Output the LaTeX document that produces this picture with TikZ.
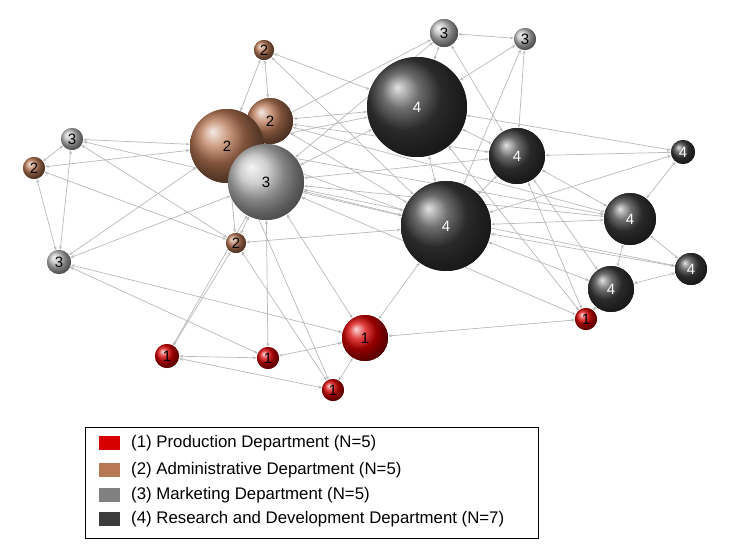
\documentclass[tikz,border=0pt]{standalone}
\usepackage{fontspec}
\setmainfont{Liberation Sans}
\usetikzlibrary{arrows.meta}
\definecolor{redc}{RGB}{215,0,0}
\definecolor{brownc}{RGB}{185,120,85}
\definecolor{grayc}{RGB}{190,190,190}
\definecolor{darkc}{RGB}{60,60,60}
\definecolor{edgec}{RGB}{185,185,185}
\begin{document}
\begin{tikzpicture}[x=1pt,y=-1pt,
  nd/.style={circle,inner sep=0pt,shading=ball,font=\fontsize{15}{15}\selectfont},
  r/.style={nd,ball color=redc,text=black},
  b/.style={nd,ball color=brownc,text=black},
  g/.style={nd,ball color=grayc,text=black},
  d/.style={nd,ball color=darkc,text=white},
  e/.style={draw=edgec,line width=0.7pt,{Stealth[length=4pt,width=3pt]}-{Stealth[length=4pt,width=3pt]}},
  lg/.style={font=\fontsize{16.8}{16.8}\selectfont,anchor=west,inner sep=0pt}]
\useasboundingbox (0,0) rectangle (731,555);
\node[r,minimum size=24pt] (A) at (167,356) {1};
\node[r,minimum size=22pt] (B) at (268,358) {1};
\node[r,minimum size=22pt] (C) at (333,390) {1};
\node[r,minimum size=46pt] (D) at (365,338) {1};
\node[r,minimum size=22pt] (E) at (586,319) {1};
\node[b,minimum size=20pt] (F) at (264,50) {2};
\node[b,minimum size=46pt] (G) at (270,121) {2};
\node[b,minimum size=74pt] (H) at (227,146) {2};
\node[b,minimum size=22pt] (I) at (34,168) {2};
\node[b,minimum size=20pt] (J) at (236,243) {2};
\node[g,minimum size=28pt] (K) at (444,33) {3};
\node[g,minimum size=22pt] (L) at (525,39) {3};
\node[g,minimum size=22pt] (M) at (72,139) {3};
\node[g,minimum size=76pt] (N) at (266,182) {3};
\node[g,minimum size=24pt] (O) at (59,262) {3};
\node[d,minimum size=100pt] (P) at (417,107) {4};
\node[d,minimum size=56pt] (Q) at (517,156) {4};
\node[d,minimum size=24pt] (R) at (683,152) {4};
\node[d,minimum size=90pt] (S) at (446,226) {4};
\node[d,minimum size=52pt] (T) at (630,219) {4};
\node[d,minimum size=32pt] (U) at (691,269) {4};
\node[d,minimum size=46pt] (V) at (611,289) {4};
\foreach \a/\b in {I/M,I/O,M/O,M/H,M/J,I/H,I/J,O/H,O/N,O/D,O/B,F/G,F/H,F/P,F/S,G/P,G/S,H/P,H/S,
  N/P,N/Q,N/S,N/T,J/N,J/H,J/S,J/C,J/A,A/N,A/B,A/C,B/N,B/D,C/D,C/H,D/S,D/N,D/E,
  E/V,E/Q,E/P,K/L,K/P,K/H,K/Q,L/P,L/Q,L/S,P/Q,P/R,P/S,Q/R,Q/T,Q/V,R/T,R/S,T/S,
  T/U,T/V,U/V,U/S,S/V,G/T,H/T,N/U,G/Q,M/S,N/E,K/N,S/Q}
  \draw[e] (\a) -- (\b);
\node[r,minimum size=24pt] at (A) {1};
\node[r,minimum size=22pt] at (B) {1};
\node[r,minimum size=22pt] at (C) {1};
\node[r,minimum size=46pt] at (D) {1};
\node[r,minimum size=22pt] at (E) {1};
\node[b,minimum size=20pt] at (F) {2};
\node[b,minimum size=46pt] at (G) {2};
\node[b,minimum size=74pt] at (H) {2};
\node[b,minimum size=22pt] at (I) {2};
\node[b,minimum size=20pt] at (J) {2};
\node[g,minimum size=28pt] at (K) {3};
\node[g,minimum size=22pt] at (L) {3};
\node[g,minimum size=22pt] at (M) {3};
\node[g,minimum size=76pt] at (N) {3};
\node[g,minimum size=24pt] at (O) {3};
\node[d,minimum size=100pt] at (P) {4};
\node[d,minimum size=56pt] at (Q) {4};
\node[d,minimum size=24pt] at (R) {4};
\node[d,minimum size=90pt] at (S) {4};
\node[d,minimum size=52pt] at (T) {4};
\node[d,minimum size=32pt] at (U) {4};
\node[d,minimum size=46pt] at (V) {4};
\node[draw=black,line width=0.6pt,minimum width=453pt,minimum height=111pt,inner sep=0pt] (box) at (311.5,482.5) {};
\fill[fill=redc] (99,436) rectangle (120,450);
\fill[fill=brownc] (99,463) rectangle (120,477);
\fill[fill=gray] (99,488) rectangle (120,502);
\fill[fill=darkc] (99,512) rectangle (120,526);
\node[lg] (l1) at (131,443) {(1) Production Department (N=5)};
\node[lg] (l2) at (131,470) {(2) Administrative Department (N=5)};
\node[lg] (l3) at (131,495) {(3) Marketing Department (N=5)};
\node[lg] (l4) at (131,519) {(4) Research and Development Department (N=7)};
\end{tikzpicture}
\end{document}
